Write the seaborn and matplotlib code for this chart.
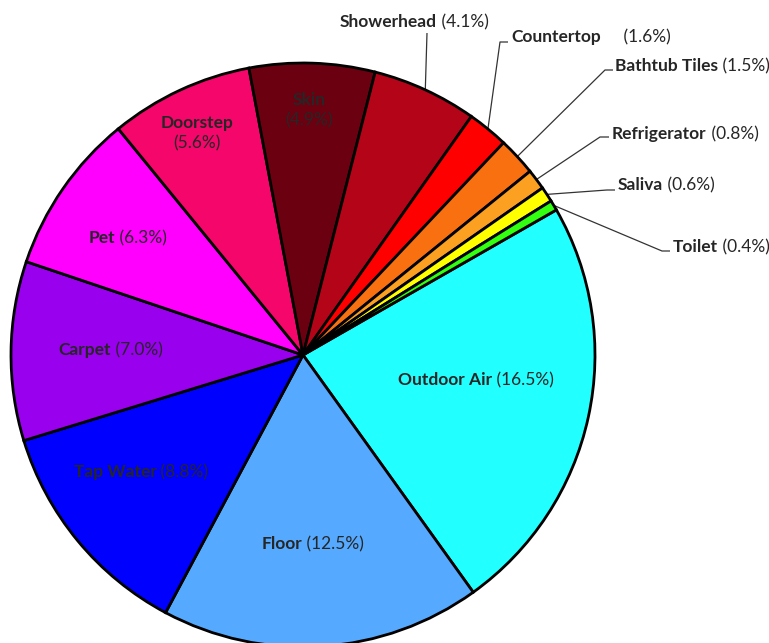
import matplotlib
matplotlib.use("Agg")
import matplotlib.pyplot as plt
import seaborn as sns
import numpy as np

# sources and their share (%)
sources = ["Outdoor Air", "Floor", "Tap Water", "Carpet", "Pet", "Doorstep", "Skin",
           "Showerhead", "Countertop", "Bathtub Tiles", "Refrigerator", "Saliva", "Toilet"]
shares = [16.5, 12.5, 8.8, 7.0, 6.3, 5.6, 4.9, 4.1, 1.6, 1.5, 0.8, 0.6, 0.4]
colors = ["#22FFFF", "#55AAFF", "#0000FF", "#9900EE", "#FF00FF", "#F5066A", "#6A0010",
          "#B40418", "#FF0000", "#F97010", "#FBA020", "#FFFF00", "#33FF11"]

W, H = 769, 643

sns.set_theme(style="white")
plt.rcParams["font.family"] = ["Lato", "DejaVu Sans"]
FS = 12.5

fig = plt.figure(figsize=(W / 100, H / 100), dpi=100)
ax = fig.add_axes([0, 0, 1, 1])

cx, cy, R = 303, H - 355, 292
wedges, _ = ax.pie(
    shares,
    colors=sns.color_palette(colors),
    startangle=29.8,
    counterclock=False,
    center=(cx, cy),
    radius=R,
    wedgeprops=dict(edgecolor="black", linewidth=2.0),
    frame=True,
)
ax.set_xlim(0, W)
ax.set_ylim(0, H)
ax.axis("off")


def label(x, y, bold, normal, ha="left", sep=" "):
    # positions given in pixels from top-left
    t1 = ax.text(x, H - y, bold, fontsize=FS, fontweight="bold", ha="left", va="center")
    t2 = ax.annotate(sep + normal, xy=(1, 0.5), xycoords=t1, fontsize=FS,
                     ha="left", va="center")
    if ha == "center":
        fig.canvas.draw()
        w = t1.get_window_extent().width + t2.get_window_extent().width
        t1.set_x(x - w / 2)


def label2(x, y, bold, normal):
    ax.text(x, H - y + 10, bold, fontsize=FS, fontweight="bold", ha="center", va="center")
    ax.text(x, H - y - 10, normal, fontsize=FS, ha="center", va="center")


# labels inside the pie
label(476, 380, "Outdoor Air", "(16.5%)", ha="center")
label(313, 544, "Floor", "(12.5%)", ha="center")
label(141, 472, "Tap Water", "(8.8%)", ha="center")
label(111, 350, "Carpet", "(7.0%)", ha="center")
label(128, 238, "Pet", "(6.3%)", ha="center")
label2(197, 133, "Doorstep", "(5.6%)")
label2(309, 110, "Skin", "(4.9%)")

# labels outside with leader lines: (elbow, end of line, text left, text y)
outside = {
    "Showerhead": [(427, 33), (427, 33), 340, 22, " "],
    "Countertop": [(500, 42), (508, 42), 511, 37, "     "],
    "Bathtub Tiles": [(605, 70), (613, 70), 615, 66, " "],
    "Refrigerator": [(600, 137), (609, 137), 612, 134, " "],
    "Saliva": [(607, 190), (615, 190), 618, 185, " "],
    "Toilet": [(662, 251), (670, 251), 673, 247, " "],
}
for w, name, val in zip(wedges, sources, shares):
    if name not in outside:
        continue
    (ex, ey), (fx, fy), tx, ty, sep = outside[name]
    mid = np.deg2rad((w.theta1 + w.theta2) / 2)
    sx, sy = cx + R * np.cos(mid), cy + R * np.sin(mid)
    ax.plot([sx, ex, fx], [sy, H - ey, H - fy], color="#333333", lw=0.9,
            solid_capstyle="butt", zorder=0.5)
    label(tx, ty, name, f"({val}%)", sep=sep)

fig.savefig("out.png", dpi=100)
